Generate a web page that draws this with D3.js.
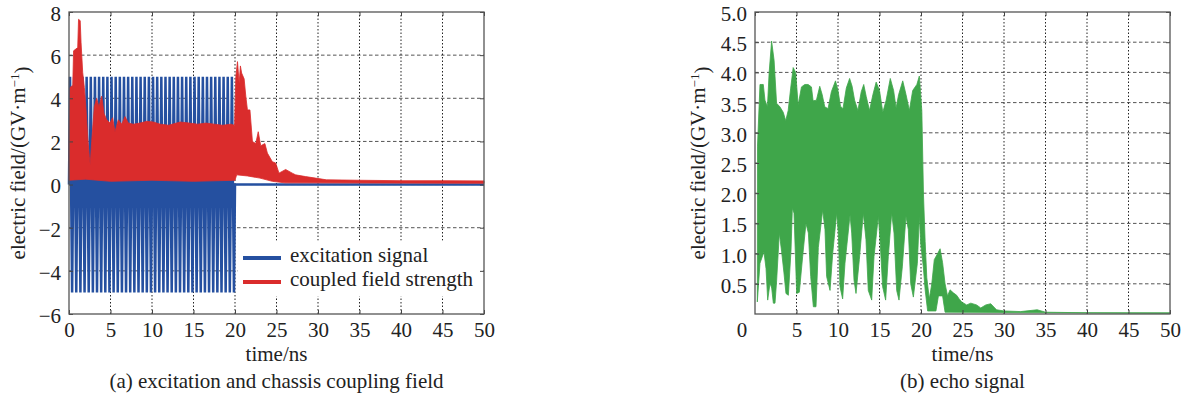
<!DOCTYPE html>
<html>
<head>
<meta charset="utf-8">
<script src="https://cdn.jsdelivr.net/npm/d3@7"></script>
<style>
  body { margin: 0; background: #fff; }
  svg { font-family: "Liberation Serif", "Times New Roman", serif; }
  svg text { font-family: "Liberation Serif", "Times New Roman", serif; fill: #222; }
</style>
</head>
<body>
<svg id="chart" width="1189" height="398"></svg>
<script>
// ---- data ----
var xTicks = [0, 5, 10, 15, 20, 25, 30, 35, 40, 45, 50];
var yTicksA = [-6, -4, -2, 0, 2, 4, 6, 8];
var yTicksB = [0.5, 1.0, 1.5, 2.0, 2.5, 3.0, 3.5, 4.0, 4.5, 5.0];

// excitation burst: 40 cycles of 0.5 ns, peak / trough of each cycle (GV/m)
var excPeriod = 0.5;
var excHigh = [5,5,5,5,5,5,5,5,5,5, 5,5,5,5,5,5,5,5,5,5, 5,5,5,5,5,5,5,5,5,5, 5,5,5,5,5,5,5,5,5,5];
var excLow = [-5,-5,-5,-5,-5,-5,-5,-5,-5,-5, -5,-5,-5,-5,-5,-5,-5,-5,-5,-5, -5,-5,-5,-5,-5,-5,-5,-5,-5,-5, -5,-5,-5,-5,-5,-5,-5,-5,-5,-5];

// coupled field strength: upper / lower envelope [t ns, value]
var coupledUpper = [[0,1.8],[0.12,4.5],[0.45,4.6],[0.55,6.2],[1.05,6.35],[1.15,7.66],[1.35,7.6],[1.45,6.6],
  [1.65,5.2],[1.85,4.5],[2.05,3.5],[2.25,2.2],[2.45,1.3],[2.55,0.9],[2.73,2.0],[3.05,3.6],[3.33,4.0],
  [3.61,3.6],[3.94,4.1],[4.22,3.3],[4.54,3.0],[4.94,2.85],[5.26,3.1],[5.54,2.45],[5.94,3.0],[6.35,2.8],
  [6.75,3.15],[7.15,2.85],[7.75,2.8],[8.55,2.85],[9.36,2.93],[10.16,2.9],[11,2.8],[12,2.75],[13.4,2.9],
  [14.5,2.85],[15.5,2.8],[16.5,2.85],[17.5,2.8],[18.5,2.75],[19.5,2.8],[19.95,2.75],[20.1,5.0],[20.3,5.7],
  [20.5,4.7],[20.65,5.5],[20.8,5.17],[21.1,4.9],[21.3,4.1],[21.5,3.46],[21.8,3.46],[22.1,2.0],[22.5,1.9],
  [22.8,2.45],[23.1,1.8],[23.6,1.9],[23.9,1.46],[24.5,1.06],[24.9,1.0],[25.3,0.53],[26.1,0.7],[26.9,0.53],
  [27.3,0.45],[28.5,0.37],[29.7,0.3],[31,0.22],[35,0.2],[40,0.18],[45,0.18],[50,0.17]];
var coupledLower = [[0,0.2],[2,0.25],[5,0.15],[10,0.2],[15,0.15],[20,0.2],[20.2,0.45],[21.5,0.4],
  [23,0.3],[24.5,0.15],[26,0.08],[50,0.06]];

// echo signal: upper / lower envelope [t ns, value]
var echoUpper = [[0.3,2.78],[0.6,3.8],[1.0,3.8],[1.2,3.54],[1.5,3.43],[1.7,3.99],[2.0,4.52],[2.3,4.2],
  [2.6,3.49],[3.0,3.43],[3.4,3.34],[3.7,3.2],[4.0,3.37],[4.3,3.74],[4.6,4.08],[4.9,4.0],[5.2,3.46],
  [5.6,3.76],[6.0,3.8],[6.4,3.8],[6.8,3.76],[7.0,3.53],[7.4,3.54],[7.8,3.77],[8.1,3.63],[8.4,3.43],
  [8.8,3.4],[9.2,3.68],[9.7,3.86],[10.0,3.7],[10.3,3.44],[10.6,3.4],[11.0,3.74],[11.4,3.9],[11.7,3.77],
  [12.0,3.54],[12.4,3.37],[12.8,3.68],[13.1,3.8],[13.4,3.6],[13.8,3.37],[14.2,3.63],[14.6,3.84],
  [15.0,3.7],[15.4,3.34],[15.8,3.54],[16.3,3.9],[16.7,3.7],[17.0,3.41],[17.3,3.63],[17.8,3.86],
  [18.2,3.63],[18.6,3.37],[19.0,3.7],[19.5,3.8],[19.8,3.94],[20.1,3.36],[20.3,1.97],[20.5,1.2],
  [20.7,0.6],[21.0,0.25],[21.3,0.5],[21.6,0.9],[22.0,1.0],[22.3,1.08],[22.6,0.85],[22.9,0.5],[23.2,0.3],
  [23.5,0.4],[23.9,0.35],[24.3,0.31],[24.6,0.25],[24.9,0.2],[25.5,0.15],[26.0,0.18],[26.7,0.15],
  [27.2,0.1],[27.8,0.15],[28.4,0.17],[29.1,0.07],[30,0.05],[32,0.04],[34,0.07],[35,0.03],[40,0.02],[50,0.02]];
var echoLower = [[0.28,0.2],[0.6,0.84],[1.08,1.03],[1.33,0.75],[1.53,0.23],[1.81,0.51],[2.01,0.43],
  [2.21,0.18],[2.41,0.18],[2.61,0.56],[2.93,1.34],[3.21,1.03],[3.49,0.68],[3.73,0.34],[4.02,0.31],
  [4.34,1.06],[4.5,1.75],[4.7,1.67],[5.02,0.34],[5.34,0.36],[5.74,0.95],[6.14,1.5],[6.43,1.34],
  [6.71,0.62],[7.03,0.12],[7.35,0.12],[7.63,1.1],[8.15,1.72],[8.43,1.4],[8.63,0.62],[9.04,0.39],
  [9.36,1.0],[9.84,1.67],[10.04,1.34],[10.24,0.45],[10.56,0.25],[10.84,0.84],[11.45,1.64],[11.65,1.34],
  [11.93,0.56],[12.17,0.34],[12.57,0.9],[13.05,1.67],[13.37,1.23],[13.65,0.39],[14.06,0.23],[14.34,0.95],
  [14.86,1.62],[15.06,1.23],[15.38,0.45],[15.74,0.23],[16.06,0.95],[16.47,1.67],[16.75,1.34],[17.07,0.39],
  [17.35,0.23],[17.75,0.78],[18.19,1.62],[18.47,1.4],[18.76,0.5],[19.08,0.28],[19.56,0.84],[19.8,1.62],
  [19.96,1.17],[20.28,0.78],[20.5,0.4],[20.8,0.05],[21.8,0.05],[22.1,0.3],[22.6,0.3],[22.9,0.03],[50,0.01]];

var legendNames = ["excitation signal", "coupled field strength"];
var colors = { exc: "#2550a0", coupled: "#da2c2c", echo: "#3fa64a" };

// ---- layout ----
var svg = d3.select("#chart");
var fontSize = 21;

var xA = d3.scaleLinear().domain([0, 50]).range([69, 484]);
var yA = d3.scaleLinear().domain([-6, 8]).range([314, 12]);
var xB = d3.scaleLinear().domain([0, 50]).range([755, 1170]);
var yB = d3.scaleLinear().domain([0, 5]).range([314, 12]);

function label(x, y, txt, anchor) {
    return svg.append("text").attr("x", x).attr("y", y)
	.attr("text-anchor", anchor || "middle").style("font-size", fontSize + "px").text(txt);
}

function grid(g, x, y, yLines) {
    var x0 = x.range()[0], x1 = x.range()[1], y0 = y.range()[0], y1 = y.range()[1];
    g.selectAll(".hg").data(yLines).enter().append("line")
	.attr("x1", x0).attr("x2", x1)
	.attr("y1", function(d) { return y(d); }).attr("y2", function(d) { return y(d); })
	.attr("stroke", "#555").attr("stroke-width", 1).attr("stroke-dasharray", "3.5,2.5");
    g.selectAll(".vg").data(xTicks.slice(1, -1)).enter().append("line")
	.attr("y1", y0).attr("y2", y1)
	.attr("x1", function(d) { return x(d); }).attr("x2", function(d) { return x(d); })
	.attr("stroke", "#222").attr("stroke-width", 1).attr("stroke-dasharray", "1.5,2");
}

function band(upper, lower, x, y) {
    var pts = upper.concat(lower.slice().reverse());
    return d3.line().x(function(d) { return x(d[0]); }).y(function(d) { return y(d[1]); })(pts) + "Z";
}

function frame(x, y, yTicks, fmt, showZeroX) {
    var g = svg.append("g");
    var x0 = x.range()[0], x1 = x.range()[1], y0 = y.range()[0], y1 = y.range()[1];
    g.append("g").attr("transform", "translate(0," + y0 + ")")
	.call(d3.axisBottom(x).tickValues(showZeroX ? xTicks : xTicks.slice(1)).tickSize(-4).tickPadding(8));
    g.append("g").attr("transform", "translate(0," + y1 + ")")
	.call(d3.axisTop(x).tickValues(xTicks).tickSize(-4).tickFormat(""));
    g.append("g").attr("transform", "translate(" + x0 + ",0)")
	.call(d3.axisLeft(y).tickValues(yTicks).tickSize(-4).tickPadding(8).tickFormat(fmt))
	.selectAll("text").attr("dy", "0.4em");
    g.append("g").attr("transform", "translate(" + x1 + ",0)")
	.call(d3.axisRight(y).tickValues(yTicks).tickSize(-4).tickFormat(""));
    g.selectAll("g").attr("font-family", null).attr("font-size", null);
    g.selectAll(".domain").remove();
    g.selectAll(".tick line").attr("stroke", "#444");
    g.selectAll(".tick text").style("font-size", fontSize + "px").attr("fill", "#222");
    g.append("rect").attr("x", x0).attr("y", y1).attr("width", x1 - x0).attr("height", y0 - y1)
	.attr("fill", "none").attr("stroke", "#555").attr("stroke-width", 1.3);
    return g;
}

function yLabel(xPos, yMid) {
    var t = svg.append("text").attr("transform", "translate(" + xPos + "," + yMid + ") rotate(-90)")
	.attr("text-anchor", "middle").style("font-size", fontSize + "px");
    t.append("tspan").text("electric field/(GV\u00b7m");
    t.append("tspan").attr("dy", "-0.45em").style("font-size", "13px").text("\u22121");
    t.append("tspan").attr("dy", "0.45em").text(")");
}

// ---- panel (a) ----
var gA = svg.append("g");
grid(gA, xA, yA, [-4, -2, 0, 2, 4, 6]);

var excPts = [[0, 0]];
excHigh.forEach(function(v, i) {
    excPts.push([i * excPeriod + excPeriod / 4, v]);
    excPts.push([i * excPeriod + 3 * excPeriod / 4, excLow[i]]);
});
excPts.push([excHigh.length * excPeriod, 0], [50, 0]);

gA.append("path")
    .attr("d", d3.line().x(function(d) { return xA(d[0]); }).y(function(d) { return yA(d[1]); })(excPts))
    .attr("fill", "none").attr("stroke", colors.exc).attr("stroke-width", 2.5);

gA.append("path").attr("d", band(coupledUpper, coupledLower, xA, yA))
    .attr("fill", colors.coupled).attr("stroke", colors.coupled).attr("stroke-width", 0.8);

// legend
var lg = svg.append("g");
lg.append("rect").attr("x", xA(20.3)).attr("y", yA(-2.6)).attr("width", xA(49.8) - xA(20.3))
    .attr("height", yA(-5.0) - yA(-2.6) + 4).attr("fill", "#fff");
[colors.exc, colors.coupled].forEach(function(c, i) {
    var yy = 258 + i * 24;
    lg.append("line").attr("x1", 243).attr("x2", 281).attr("y1", yy).attr("y2", yy)
	.attr("stroke", c).attr("stroke-width", 4);
});
legendNames.forEach(function(n, i) { label(290, 262 + i * 24, n, "start"); });

frame(xA, yA, yTicksA, d3.format("d"), true);
yLabel(25, 163);
label((xA.range()[0] + xA.range()[1]) / 2, 361, "time/ns");
label((xA.range()[0] + xA.range()[1]) / 2, 388, "(a) excitation and chassis coupling field");

// ---- panel (b) ----
var gB = svg.append("g");
grid(gB, xB, yB, yTicksB.slice(0, -1));
gB.append("path").attr("d", band(echoUpper, echoLower, xB, yB))
    .attr("fill", colors.echo).attr("stroke", colors.echo).attr("stroke-width", 0.8);

frame(xB, yB, yTicksB, d3.format(".1f"), false);
label(xB(0) - 13, 337, "0");
yLabel(705, 163);
label((xB.range()[0] + xB.range()[1]) / 2, 361, "time/ns");
label((xB.range()[0] + xB.range()[1]) / 2, 388, "(b) echo signal");
</script>
</body>
</html>
